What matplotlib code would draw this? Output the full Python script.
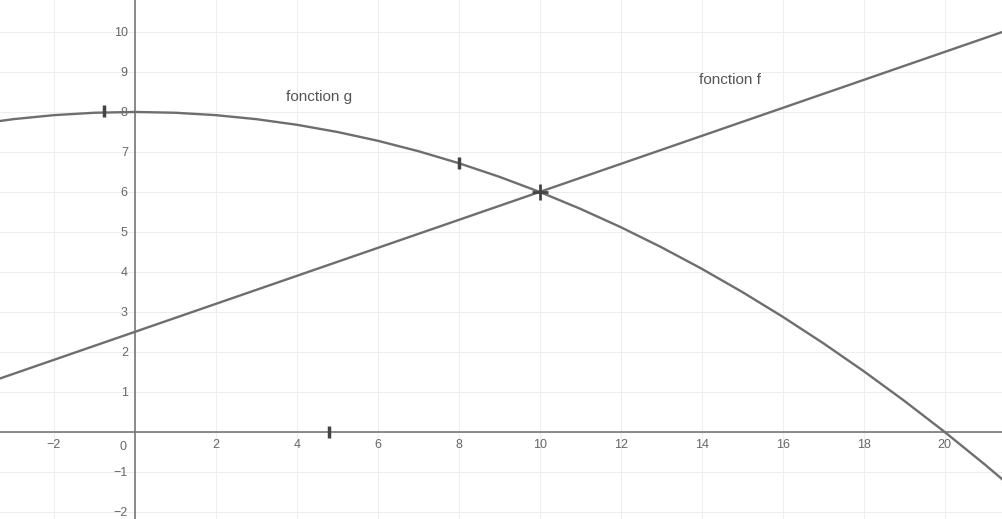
import matplotlib
matplotlib.use("Agg")
import matplotlib.pyplot as plt
import numpy as np

# values
g_x = [-4, -3, -2, -1, 0, 1, 2, 3, 4, 5, 6, 7, 8, 9, 10, 11, 12, 13,
       14, 15, 16, 17, 18, 19, 20, 21, 22]
g_y = [7.68, 7.82, 7.92, 7.98, 8.0, 7.98, 7.92, 7.82, 7.68, 7.5, 7.28,
       7.02, 6.72, 6.38, 6.0, 5.58, 5.12, 4.62, 4.08, 3.5, 2.88, 2.22,
       1.52, 0.78, 0.0, -0.82, -1.68]

f_x = [-4, 22]
f_y = [1.1, 10.2]

# pen marks on the printout
tick_marks_x = [-0.75, 8, 4.8]
tick_marks_y = [8.02, 6.72, 0.0]
cross_x = [10]
cross_y = [6]

x_ticks = [-2, 2, 4, 6, 8, 10, 12, 14, 16, 18, 20]
y_ticks = [-2, -1, 1, 2, 3, 4, 5, 6, 7, 8, 9, 10]

plt.rcParams["font.family"] = ["Liberation Sans", "DejaVu Sans"]

fig = plt.figure(figsize=(10.02, 5.19), dpi=100)
ax = fig.add_axes([0, 0, 1, 1])
ax.set_xlim(-3.33, 21.42)
ax.set_ylim(-2.18, 10.8)

# faint grid (every 2 units in x, every unit in y)
for gx in range(-2, 22, 2):
    ax.axvline(gx, color="#eeeeee", lw=0.8, zorder=0)
for gy in range(-2, 11):
    ax.axhline(gy, color="#eeeeee", lw=0.8, zorder=0)

for side in ["top", "right"]:
    ax.spines[side].set_visible(False)
ax.spines["left"].set_position(("data", 0))
ax.spines["bottom"].set_position(("data", 0))
for side in ["left", "bottom"]:
    ax.spines[side].set_color("#777777")
    ax.spines[side].set_linewidth(1.2)

ax.set_xticks(x_ticks)
ax.set_xticklabels([str(v).replace("-", "\u2212") for v in x_ticks])
ax.set_yticks(y_ticks)
ax.set_yticklabels([str(v).replace("-", "\u2212") for v in y_ticks])
ax.tick_params(length=0, labelsize=9, labelcolor="#666666")
ax.tick_params(axis="x", pad=5)
ax.tick_params(axis="y", pad=5)
ax.text(-0.2, -0.22, "0", fontsize=9, color="#666666", ha="right", va="top")

ax.plot(g_x, g_y, color="#6e6e6e", lw=1.7, zorder=3)
ax.plot(f_x, f_y, color="#6e6e6e", lw=1.7, zorder=3)

ax.plot(tick_marks_x, tick_marks_y, ls="none", marker="|", ms=9, mew=2.5,
        color="#444444", zorder=4)
ax.plot(cross_x, cross_y, ls="none", marker="+", ms=12, mew=2,
        color="#444444", zorder=4)

ax.text(4.55, 8.37, "fonction g", fontsize=11, color="#555555", ha="center", va="center")
ax.text(14.7, 8.8, "fonction f", fontsize=11, color="#555555", ha="center", va="center")

fig.savefig("out.png", dpi=100)
